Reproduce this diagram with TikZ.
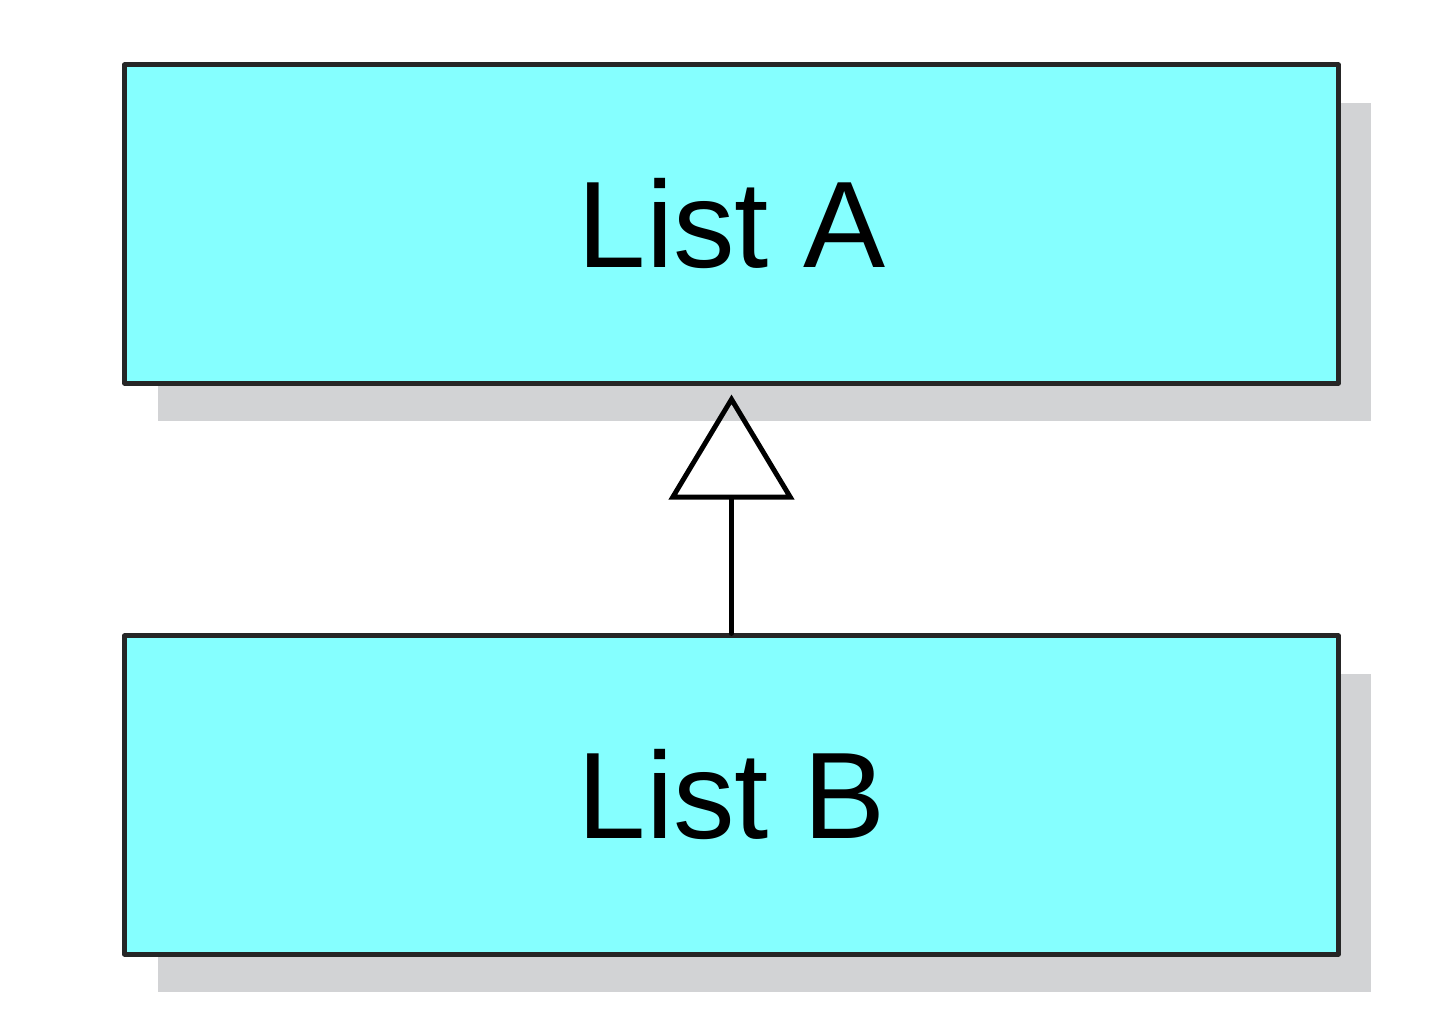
\documentclass[tikz,border=0pt]{standalone}
\usepackage{fontspec}
\setmainfont{Liberation Sans}
\usepackage{xcolor}
\usetikzlibrary{arrows.meta,shadows}
\definecolor{listcyan}{HTML}{85FFFF}
\definecolor{listedge}{HTML}{DDF6FF}
\definecolor{listshadow}{HTML}{D2D3D5}
\tikzset{listbox/.style={draw=black!85,line width=1.4pt,fill=listcyan,
  minimum width=12.13cm,minimum height=3.18cm,inner sep=0pt,
  font=\fontsize{35}{38}\selectfont,
  drop shadow={shadow xshift=0.33cm,shadow yshift=-0.38cm,opacity=1,fill=listshadow}}}
\begin{document}
\begin{tikzpicture}[x=0.01cm,y=-0.01cm,line cap=round,line join=round]
\useasboundingbox (0,0) rectangle (1440,1028);
\node[listbox] (lista) at (731.5,224) {List A};
\node[listbox] (listb) at (731.5,795) {List B};
\draw[line width=1.4pt,-{Triangle[open,length=1.05cm,width=1.25cm,line width=1.4pt]}] (listb.north) -- ([yshift=-0.09cm]lista.south);
\end{tikzpicture}
\end{document}
